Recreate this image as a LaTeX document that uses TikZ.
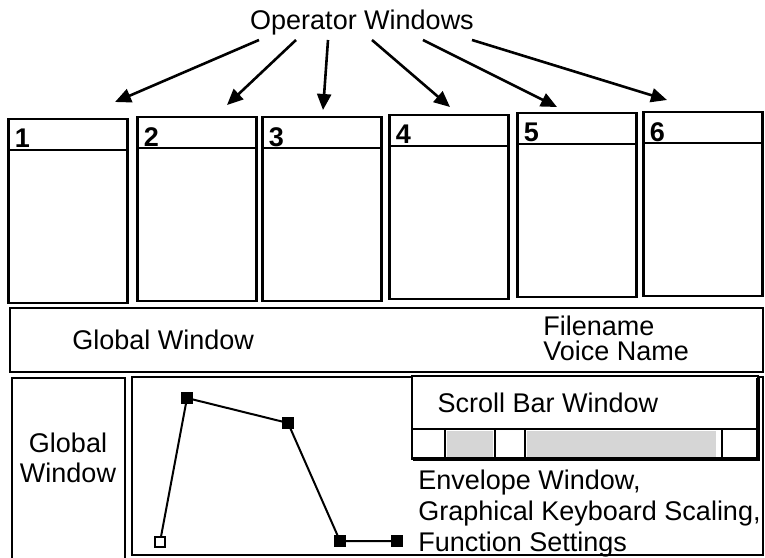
\documentclass[tikz,border=0pt]{standalone}
\usepackage{fontspec}
\setmainfont{Liberation Sans}
\usetikzlibrary{arrows.meta,positioning,calc}
\definecolor{bar}{HTML}{D6D6D6}
\tikzset{win/.style={draw=black,line width=1.2pt,inner sep=0pt,outer sep=0pt},lab/.style={font=\fontsize{13.5}{15}\selectfont,inner sep=0pt},num/.style={font=\bfseries\fontsize{13.5}{15}\selectfont,inner sep=0pt,anchor=north west},arrow/.style={-{Triangle[length=8pt,width=7pt]},line width=1.3pt},knot/.style={draw=black,fill=black,minimum size=5pt,inner sep=0pt,line width=0.8pt}}
\begin{document}
\begin{tikzpicture}[x=0.5pt,y=-0.5pt]
\useasboundingbox (0,0) rectangle (765,557);
\node[lab] (title) at (362,23) {Operator Windows};
\foreach \i/\x/\t in {1/68/119,2/197/117,3/322/117,4/449/115,5/577/113,6/703/112}{\node[win,minimum width=59.5pt,minimum height=92pt,anchor=north] (op\i) at (\x,\t) {};\draw[line width=1.2pt] ([yshift=-15.5pt]op\i.north west)--([yshift=-15.5pt]op\i.north east);\node[num] (n\i) at ([xshift=3pt,yshift=-5pt]op\i.north west) {\i};}
\foreach \i/\d/\a/\b in {1/-103/115/102,2/-66/227/105,3/-34/323/110,4/10/450/107,5/61/557/107,6/110/667/100}{\coordinate (aim\i) at (\a,\b);\draw[arrow] ($(title.south)+(\d,4)$)--(aim\i);}
\node[win,minimum width=376.5pt,minimum height=32pt,anchor=north west] (glob) at (10,308) {};
\node[lab,anchor=west] (globtxt) at (72,340) {Global Window};
\node[lab,anchor=west,align=left,font=\fontsize{13.5}{12.5}\selectfont] (fname) at (543,338) {Filename\\Voice Name};
\node[win,minimum width=56.5pt,minimum height=92pt,anchor=north west] (side) at (12,378) {};
\node[lab,align=center] (sidetxt) at (68,458) {Global\\Window};
\node[win,minimum width=315.5pt,minimum height=89pt,anchor=north west] (env) at (132,377) {};
\node[win,minimum width=173pt,minimum height=41.5pt,anchor=north west,fill=white] (scroll) at (412,376) {};
\node[lab] (scrolltxt) at (548,403) {Scroll Bar Window};
\fill[bar] (447,431) rectangle (493,457);
\fill[bar] (527,431) rectangle (716,457);
\draw[line width=1.2pt] (412,429)--(758,429);
\foreach \x in {445,495,525,722}{\draw[line width=1pt] (\x,429)--(\x,459);}
\draw[line width=2.2pt] (758,378)--(758,459)--(413,459);
\node[lab,anchor=base west,align=left,font=\fontsize{13.5}{15.5}\selectfont] (envtxt) at (418,551) {Envelope Window,\\Graphical Keyboard Scaling,\\Function Settings};
\node[knot,fill=white] (k0) at (160,542) {};
\node[knot] (k1) at (187,398) {};
\node[knot] (k2) at (288,423) {};
\node[knot] (k3) at (340,541) {};
\node[knot] (k4) at (397,541) {};
\draw[line width=1pt] (k0)--(k1)--(k2)--(k3)--(k4);
\end{tikzpicture}
\end{document}
